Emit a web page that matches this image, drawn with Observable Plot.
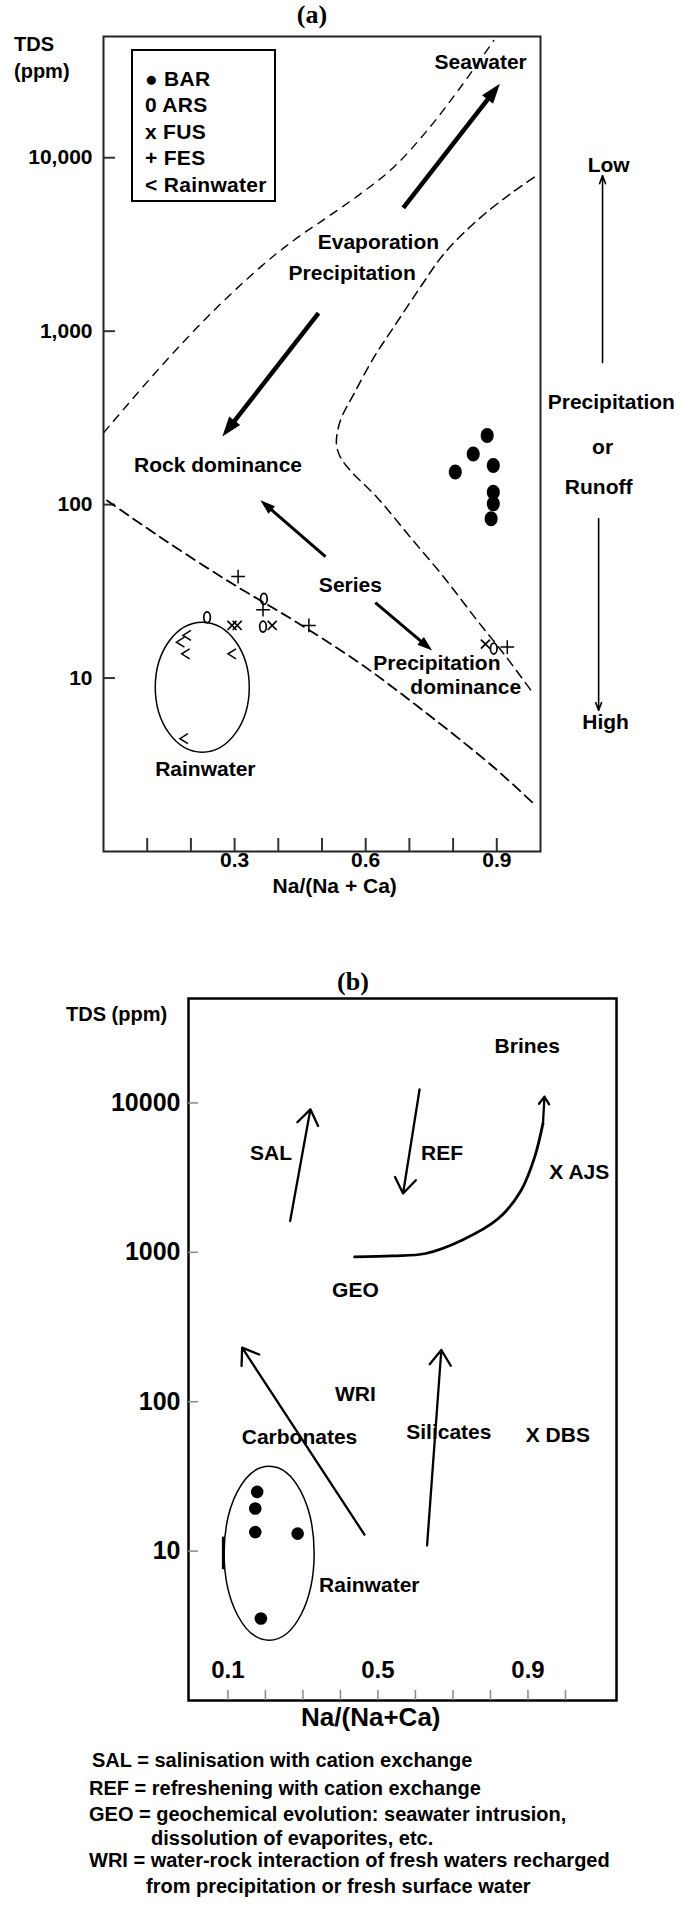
<!DOCTYPE html>
<html><head><meta charset="utf-8">
<script src="https://cdn.jsdelivr.net/npm/d3@7"></script>
<script src="https://cdn.jsdelivr.net/npm/@observablehq/plot@0.6"></script>
<style>
body{margin:0;background:#fff;}
#page{position:relative;width:685px;height:1908px;overflow:hidden;font-family:"Liberation Sans",Arial,sans-serif;font-weight:bold;color:#000;}
.a{position:absolute;white-space:nowrap;line-height:1;}
.ttl{font-family:"Liberation Serif","Times New Roman",serif;font-size:26px;font-weight:bold;transform:translate(-50%,-50%);}
.t20{font-size:20px;}
.mid{transform:translateY(-50%);}
#legend{position:absolute;left:131px;top:49px;width:141px;height:149px;border:2px solid #000;}
#legend div{position:absolute;left:12px;font-size:21px;transform:translateY(-50%);white-space:nowrap;letter-spacing:0.3px;}
svg{position:absolute;left:0;}
</style></head><body><div id="page"></div>
<script>
// ================= Panel (a) data =================
const aYTicks = [10, 100, 1000, 10000];
const aYTickLabels = ["10", "100", "1,000", "10,000"];
const aXTicks = [0.1, 0.2, 0.3, 0.4, 0.5, 0.6, 0.7, 0.8, 0.9];
const aXLabelTicks = [0.3, 0.6, 0.9];
const aXLabelText = ["0.3", "0.6", "0.9"];

// dashed boundary curves (Na/(Na+Ca), TDS ppm)
const aUpperNa  = [0.001, 0.130, 0.245, 0.359, 0.435, 0.512, 0.588, 0.664, 0.741, 0.817, 0.893];
const aUpperTDS = [261, 620, 1259, 2340, 3335, 4540, 6190, 8810, 14400, 25500, 47400];
const aRightNa  = [0.986, 0.931, 0.855, 0.779, 0.725, 0.664, 0.619, 0.573, 0.542, 0.533, 0.542, 0.565, 0.626, 0.702, 0.779, 0.855, 0.916, 0.984];
const aRightTDS = [7720, 6190, 4350, 2790, 1792, 1054, 708, 435, 305, 224, 188, 157, 110, 64.9, 38.1, 21.5, 13.8, 8.11];
const aLowerNa  = [0.008, 0.130, 0.283, 0.435, 0.588, 0.741, 0.893, 0.989];
const aLowerTDS = [105.6, 64.9, 36.5, 21.5, 12.1, 6.22, 3.06, 1.84];

// samples
const barNa  = [0.878, 0.846, 0.805, 0.892, 0.892, 0.892, 0.887];
const barTDS = [250, 196, 154, 168, 118, 101, 82.8];
const arsNa  = [0.367, 0.365, 0.237, 0.893];
const arsTDS = [28.6, 19.8, 22.4, 14.8];
const fusNa  = [0.294, 0.306, 0.386, 0.874];
const fusTDS = [20.1, 20.1, 20.1, 15.7];
const fesNa  = [0.308, 0.365, 0.470, 0.924];
const fesTDS = [38.5, 24.8, 20.1, 15.1];
const rainNa  = [0.191, 0.176, 0.188, 0.294, 0.184];
const rainTDS = [17.6, 16.1, 13.8, 13.8, 4.47];
const aEllNa = [0.226], aEllTDS = [8.86];

// arrows
const aBigX1 = [0.686, 0.492], aBigY1 = [5140, 1270], aBigX2 = [0.907, 0.272], aBigY2 = [26700, 247];
const aSerX1 = [0.508, 0.622], aSerY1 = [50.2, 27.2], aSerX2 = [0.359, 0.752], aSerY2 = [106, 14.4];
const aSideX = [1.142, 1.133], aSideFrom = [659, 83.2], aSideTo = [7890, 6.5];

// labels
const aLabText = ["Seawater", "Evaporation", "Precipitation", "Rock dominance", "Series", "Precipitation", "dominance", "Rainwater", "Low", "Precipitation", "or", "Runoff", "High"];
const aLabNa   = [0.863, 0.629, 0.569, 0.262, 0.565, 0.763, 0.829, 0.233, 1.156, 1.162, 1.142, 1.133, 1.149];
const aLabTDS  = [35400, 3260, 2160, 168, 34.2, 12.1, 8.86, 2.96, 9020, 388, 213, 125.5, 5.54];

// ================= Panel (b) data =================
const bYTicks = [10, 100, 1000, 10000];
const bYTickLabels = ["10", "100", "1000", "10000"];
const bXTicks = [0.1, 0.2, 0.3, 0.4, 0.5, 0.6, 0.7, 0.8, 0.9, 1.0];
const bXLabelTicks = [0.1, 0.5, 0.9];
const bXLabelText = ["0.1", "0.5", "0.9"];

const bDotNa  = [0.178, 0.173, 0.173, 0.286, 0.188];
const bDotTDS = [24.9, 19.3, 13.4, 13.1, 3.54];
const bEllNa = [0.210], bEllTDS = [9.68];
const bBarNa = [0.088], bBarLo = [7.5], bBarHi = [12.4];

const bArrX1 = [0.266, 0.611, 0.464, 0.631, 0.940];
const bArrY1 = [1620, 12300, 12.9, 10.9, 7296];
const bArrX2 = [0.320, 0.567, 0.138, 0.669, 0.944];
const bArrY2 = [9060, 2476, 230, 222, 11000];

const geoNa  = [0.438, 0.539, 0.627, 0.724, 0.821, 0.882, 0.918, 0.940];
const geoTDS = [931, 946, 982, 1205, 1683, 2606, 4355, 7296];

const bLabText = ["Brines", "SAL", "REF", "GEO", "WRI", "Carbonates", "Silicates", "Rainwater"];
const bLabNa   = [0.898, 0.215, 0.671, 0.440, 0.440, 0.291, 0.689, 0.477];
const bLabTDS  = [24000, 4590, 4590, 560, 112, 58, 62.5, 5.95];
const bSiteText = ["X AJS", "X DBS"];
const bSiteNa   = [0.957, 0.894];
const bSiteTDS  = [3450, 60];

const footnotes = [
  "SAL = salinisation with cation exchange",
  "REF = refreshening with cation exchange",
  "GEO = geochemical evolution: seawater intrusion,",
  "dissolution of evaporites, etc.",
  "WRI = water-rock interaction of fresh waters recharged",
  "from precipitation or fresh surface water"
];

// ================= helpers =================
const zip = (xs, ys) => xs.map((x, i) => ({x, y: ys[i]}));
const FONT = "Liberation Sans, Arial, sans-serif";
function ellipseSymbol(rx, ry) {
  const k = 0.5523;
  return {draw(c) {
    c.moveTo(rx, 0);
    c.bezierCurveTo(rx, ry * k, rx * k, ry, 0, ry);
    c.bezierCurveTo(-rx * k, ry, -rx, ry * k, -rx, 0);
    c.bezierCurveTo(-rx, -ry * k, -rx * k, -ry, 0, -ry);
    c.bezierCurveTo(rx * k, -ry, rx, -ry * k, rx, 0);
    c.closePath();
  }};
}
function headSymbol(len, wid) {
  return {draw(c) { c.moveTo(0, 0); c.lineTo(wid / 2, len); c.lineTo(-wid / 2, len); c.closePath(); }};
}
const lessSymbol = {draw(c) { c.moveTo(4, -5); c.lineTo(-4, 0); c.lineTo(4, 5); }};
function arrowsWithAngle(x1, y1, x2, y2, sx, sy) {
  return x1.map((_, i) => {
    const dx = sx.apply(x2[i]) - sx.apply(x1[i]);
    const dy = sy.apply(y2[i]) - sy.apply(y1[i]);
    return {x1: x1[i], y1: y1[i], x2: x2[i], y2: y2[i], angle: Math.atan2(dx, -dy) * 180 / Math.PI};
  });
}
const page = document.getElementById("page");
function addDiv(html, cls, style) {
  const d = document.createElement("div");
  d.className = cls; d.innerHTML = html; Object.assign(d.style, style);
  page.appendChild(d); return d;
}

// ================= Panel (a) =================
const A = {w: 685, h: 880, ml: 103, mr: 145, mt: 6, mb: 59, top: 30};
const sxA = Plot.scale({x: {domain: [0, 1], range: [A.ml, A.w - A.mr]}});
const syA = Plot.scale({y: {type: "log", domain: [1, 50000], range: [A.h - A.mb, A.mt]}});
const bigA = arrowsWithAngle(aBigX1, aBigY1, aBigX2, aBigY2, sxA, syA);
const serA = arrowsWithAngle(aSerX1, aSerY1, aSerX2, aSerY2, sxA, syA);

const plotA = Plot.plot({
  width: A.w, height: A.h, marginLeft: A.ml, marginRight: A.mr, marginTop: A.mt, marginBottom: A.mb,
  x: {domain: [0, 1]},
  y: {type: "log", domain: [1, 50000]},
  style: {fontFamily: FONT, background: "transparent", color: "black", overflow: "visible"},
  marks: [
    Plot.frame({stroke: "#222", strokeWidth: 2}),
    Plot.axisY({ticks: aYTicks, tickSize: -12, tickFormat: () => "", strokeWidth: 2, stroke: "#333"}),
    Plot.axisX({ticks: aXTicks, tickSize: -13, tickFormat: () => "", strokeWidth: 2, stroke: "#333"}),
    Plot.text(aYTicks, {y: d => d, text: (d, i) => aYTickLabels[i], frameAnchor: "left", dx: -11, textAnchor: "end", fontSize: 21, fontWeight: "bold"}),
    Plot.text(aXLabelTicks, {x: d => d, text: (d, i) => aXLabelText[i], frameAnchor: "bottom", dy: 15, fontSize: 21, fontWeight: "bold"}),
    Plot.text(["Na/(Na + Ca)"], {x: () => 0.529, text: d => d, frameAnchor: "bottom", dy: 41, fontSize: 21, fontWeight: "bold"}),
    Plot.line(zip(aUpperNa, aUpperTDS), {x: "x", y: "y", curve: "catmull-rom", strokeWidth: 1.4, strokeDasharray: "8,7"}),
    Plot.line(zip(aRightNa, aRightTDS), {x: "x", y: "y", curve: "catmull-rom", strokeWidth: 1.5, strokeDasharray: "9,6"}),
    Plot.line(zip(aLowerNa, aLowerTDS), {x: "x", y: "y", curve: "catmull-rom", strokeWidth: 1.8, strokeDasharray: "10,6"}),
    Plot.dot(zip(aEllNa, aEllTDS), {x: "x", y: "y", r: 5, symbol: ellipseSymbol(47, 65), stroke: "black", strokeWidth: 1.5, fill: "none"}),
    Plot.dot(zip(barNa, barTDS), {x: "x", y: "y", r: 6.5, symbol: ellipseSymbol(6.5, 7.5), fill: "black", stroke: "none"}),
    Plot.dot(zip(arsNa, arsTDS), {x: "x", y: "y", r: 4, symbol: ellipseSymbol(3.3, 5.5), stroke: "black", strokeWidth: 1.7, fill: "none"}),
    Plot.dot(zip(fusNa, fusTDS), {x: "x", y: "y", r: 4.2, symbol: "times", stroke: "black", strokeWidth: 1.7}),
    Plot.dot(zip(fesNa, fesTDS), {x: "x", y: "y", r: 4.5, symbol: "plus", stroke: "black", strokeWidth: 1.5}),
    Plot.dot(zip(rainNa, rainTDS), {x: "x", y: "y", r: 4, symbol: lessSymbol, stroke: "black", strokeWidth: 1.5, fill: "none"}),
    Plot.arrow(bigA, {x1: "x1", y1: "y1", x2: "x2", y2: "y2", headLength: 0, insetEnd: 16, strokeWidth: 4.5, strokeLinecap: "butt"}),
    Plot.dot(bigA, {x: "x2", y: "y2", r: 5, symbol: headSymbol(20, 14), rotate: "angle", fill: "black", stroke: "none"}),
    Plot.arrow(serA, {x1: "x1", y1: "y1", x2: "x2", y2: "y2", headLength: 0, insetEnd: 12, strokeWidth: 3, strokeLinecap: "butt"}),
    Plot.dot(serA, {x: "x2", y: "y2", r: 5, symbol: headSymbol(15, 10), rotate: "angle", fill: "black", stroke: "none"}),
    Plot.arrow(aSideX.map((x, i) => ({x, a: aSideFrom[i], b: aSideTo[i]})), {x1: "x", x2: "x", y1: "a", y2: "b", headLength: 8, headAngle: 40, strokeWidth: 1.6}),
    Plot.text(aLabText.map((t, i) => ({t, x: aLabNa[i], y: aLabTDS[i]})), {x: "x", y: "y", text: "t", fontSize: 21, fontWeight: "bold"})
  ]
});
plotA.style.top = A.top + "px";
page.appendChild(plotA);

addDiv("(a)", "a ttl", {left: "312px", top: "15px"});
addDiv("TDS", "a t20", {left: "14px", top: "34px"});
addDiv("(ppm)", "a t20", {left: "14px", top: "61px"});
const leg = document.createElement("div"); leg.id = "legend"; page.appendChild(leg);
[["&#9679; BAR", 28], ["0 ARS", 54], ["x FUS", 81], ["+ FES", 107], ["&lt; Rainwater", 134]].forEach(([t, y]) => {
  const d = document.createElement("div"); d.innerHTML = t; d.style.top = y + "px"; leg.appendChild(d);
});

// ================= Panel (b) =================
const B = {w: 685, h: 750, ml: 188, mr: 69, mt: 8, mb: 40, top: 990};
const bXDomain = [-0.005, 1.136];
const arrB = bArrX1.map((x1, i) => ({x1, y1: bArrY1[i], x2: bArrX2[i], y2: bArrY2[i]}));

const plotB = Plot.plot({
  width: B.w, height: B.h, marginLeft: B.ml, marginRight: B.mr, marginTop: B.mt, marginBottom: B.mb,
  x: {domain: bXDomain},
  y: {type: "log", domain: [1, 50000]},
  style: {fontFamily: FONT, background: "transparent", color: "black", overflow: "visible"},
  marks: [
    Plot.frame({stroke: "black", strokeWidth: 2.5}),
    Plot.axisY({ticks: bYTicks, tickSize: -10, tickFormat: () => "", strokeWidth: 1.5, stroke: "#888"}),
    Plot.axisX({ticks: bXTicks, tickSize: -10, tickFormat: () => "", strokeWidth: 1.5, stroke: "#888"}),
    Plot.text(bYTicks, {y: d => d, text: (d, i) => bYTickLabels[i], frameAnchor: "left", dx: -8, textAnchor: "end", fontSize: 25, fontWeight: "bold"}),
    Plot.text(bXLabelTicks, {x: d => d, text: (d, i) => bXLabelText[i], frameAnchor: "bottom", dy: -23, fontSize: 24, fontWeight: "bold"}),
    Plot.text(["Na/(Na+Ca)"], {x: () => 0.481, text: d => d, frameAnchor: "bottom", dy: 25, fontSize: 26, fontWeight: "bold"}),
    Plot.dot(zip(bEllNa, bEllTDS), {x: "x", y: "y", r: 5, symbol: ellipseSymbol(45, 87), stroke: "black", strokeWidth: 1.5, fill: "none"}),
    Plot.ruleX(bBarNa.map((x, i) => ({x, a: bBarLo[i], b: bBarHi[i]})), {x: "x", y1: "a", y2: "b", strokeWidth: 3}),
    Plot.dot(zip(bDotNa, bDotTDS), {x: "x", y: "y", r: 6.3, fill: "black", stroke: "none"}),
    Plot.line(zip(geoNa, geoTDS), {x: "x", y: "y", curve: "catmull-rom", strokeWidth: 2.8}),
    Plot.arrow(arrB, {x1: "x1", y1: "y1", x2: "x2", y2: "y2", headLength: 12, headAngle: 70, strokeWidth: 2.3}),
    Plot.text(bLabText.map((t, i) => ({t, x: bLabNa[i], y: bLabTDS[i]})), {x: "x", y: "y", text: "t", fontSize: 21, fontWeight: "bold"}),
    Plot.text(bSiteText.map((t, i) => ({t, x: bSiteNa[i], y: bSiteTDS[i]})), {x: "x", y: "y", text: "t", textAnchor: "start", fontSize: 21, fontWeight: "bold"})
  ]
});
plotB.style.top = B.top + "px";
page.appendChild(plotB);

addDiv("(b)", "a ttl", {left: "353px", top: "982px"});
addDiv("TDS (ppm)", "a t20", {left: "66px", top: "1004px"});
const fnPos = [[92, 1760], [89, 1788], [89, 1814], [151, 1838], [89, 1860], [146, 1886]];
footnotes.forEach((t, i) => addDiv(t, "a t20 mid", {left: fnPos[i][0] + "px", top: fnPos[i][1] + "px"}));
</script>
</body></html>
